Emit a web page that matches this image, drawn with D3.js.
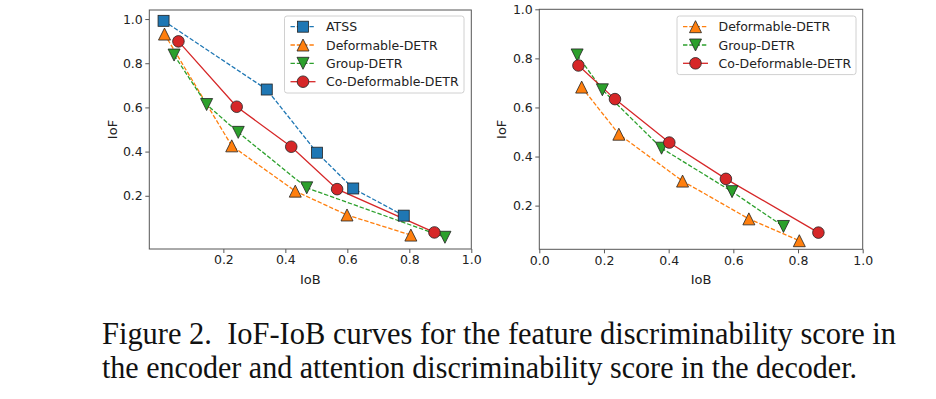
<!DOCTYPE html>
<html>
<head>
<meta charset="utf-8">
<script src="https://cdn.jsdelivr.net/npm/d3@7"></script>
<style>
    body { margin: 0; background: #fff; }
    svg text { fill: #222; }
    .tick-label, .legend-label, .axis-label { font-family: "DejaVu Sans", sans-serif; }
    .caption { font-family: "Liberation Serif", "Times New Roman", serif; fill: #111; white-space: pre; }
</style>
</head>
<body>
<svg id="chart" width="936" height="399"></svg>
<script>
/**
 * Data.
 * Left panel: encoder (feature discriminability), right panel: decoder (attention).
 */
const encAtssIoB = [0.007, 0.340, 0.502, 0.619, 0.782],
    encAtssIoF = [0.992, 0.681, 0.395, 0.233, 0.110];
const encDefIoB = [0.010, 0.227, 0.432, 0.599, 0.805],
    encDefIoF = [0.932, 0.426, 0.221, 0.113, 0.022];
const encGroupIoB = [0.041, 0.146, 0.248, 0.469, 0.915],
    encGroupIoF = [0.837, 0.613, 0.487, 0.236, 0.012];
const encCoIoB = [0.055, 0.243, 0.419, 0.567, 0.881],
    encCoIoF = [0.899, 0.603, 0.422, 0.230, 0.034];

const decDefIoB = [0.131, 0.246, 0.443, 0.648, 0.804],
    decDefIoF = [0.683, 0.491, 0.300, 0.146, 0.057];
const decGroupIoB = [0.117, 0.195, 0.378, 0.596, 0.755],
    decGroupIoF = [0.814, 0.672, 0.434, 0.257, 0.115];
const decCoIoB = [0.121, 0.234, 0.402, 0.577, 0.863],
    decCoIoF = [0.771, 0.634, 0.457, 0.309, 0.090];

const leftXTicks = [0.2, 0.4, 0.6, 0.8, 1.0],
    leftYTicks = [0.2, 0.4, 0.6, 0.8, 1.0],
    rightXTicks = [0.0, 0.2, 0.4, 0.6, 0.8, 1.0],
    rightYTicks = [0.2, 0.4, 0.6, 0.8, 1.0];

const captionLines = [
    'Figure 2.  IoF-IoB curves for the feature discriminability score in',
    'the encoder and attention discriminability score in the decoder.'
];

/**
 * Series styles.
 */
const styles = {
    'ATSS': { color: '#1f77b4', dash: '4.4,1.9', marker: 'square' },
    'Deformable-DETR': { color: '#ff7f0e', dash: '4.4,1.9', marker: 'up' },
    'Group-DETR': { color: '#2ca02c', dash: '4.4,1.9', marker: 'down' },
    'Co-Deformable-DETR': { color: '#d62728', dash: null, marker: 'circle' }
};

function zip(xs, ys) {
    return xs.map((x, i) => ({ x: x, y: ys[i] }));
}

const panels = [
    {
        box: { left: 149.3, right: 471.3, top: 10, bottom: 249 },
        xDomain: [-0.039, 1.0], yDomain: [-0.041, 1.041],
        xTicks: leftXTicks, yTicks: leftYTicks,
        yLabelX: 113,
        legend: { left: 284.5, top: 16, width: 179.5, rowY: [26.7, 45, 63.3, 81.7] },
        series: [
            { name: 'ATSS', points: zip(encAtssIoB, encAtssIoF) },
            { name: 'Deformable-DETR', points: zip(encDefIoB, encDefIoF) },
            { name: 'Group-DETR', points: zip(encGroupIoB, encGroupIoF) },
            { name: 'Co-Deformable-DETR', points: zip(encCoIoB, encCoIoF) }
        ]
    },
    {
        box: { left: 539.3, right: 862.7, top: 9.3, bottom: 249.3 },
        xDomain: [0, 1], yDomain: [0.022, 1.0],
        xTicks: rightXTicks, yTicks: rightYTicks,
        yLabelX: 502,
        legend: { left: 677, top: 16, width: 179, rowY: [26.7, 45, 63.3] },
        series: [
            { name: 'Deformable-DETR', points: zip(decDefIoB, decDefIoF) },
            { name: 'Group-DETR', points: zip(decGroupIoB, decGroupIoF) },
            { name: 'Co-Deformable-DETR', points: zip(decCoIoB, decCoIoF) }
        ]
    }
];

const svg = d3.select('#chart');

/**
 * Draws one marker glyph centred at (cx, cy).
 */
function drawMarker(g, type, cx, cy, color) {
    let m;
    if (type === 'square') {
        m = g.append('rect').attr('x', cx - 5.5).attr('y', cy - 5.5)
            .attr('width', 11).attr('height', 11);
    } else if (type === 'circle') {
        m = g.append('circle').attr('cx', cx).attr('cy', cy).attr('r', 5.8);
    } else {
        const s = 6, d = type === 'up' ? -1 : 1;
        m = g.append('path').attr('d',
            'M' + cx + ',' + (cy + d * s) +
            'L' + (cx - s) + ',' + (cy - d * s) +
            'L' + (cx + s) + ',' + (cy - d * s) + 'Z');
    }
    m.attr('fill', color).attr('stroke', '#222').attr('stroke-width', 0.8);
}

function drawPanel(p) {
    const b = p.box;
    const x = d3.scaleLinear().domain(p.xDomain).range([b.left, b.right]),
        y = d3.scaleLinear().domain(p.yDomain).range([b.bottom, b.top]);

    const g = svg.append('g');

    // Axes
    const xAxis = g.append('g').attr('transform', 'translate(0,' + b.bottom + ')')
        .call(d3.axisBottom(x).tickValues(p.xTicks).tickFormat(d3.format('.1f')).tickSizeOuter(0).tickSize(4));
    const yAxis = g.append('g').attr('transform', 'translate(' + b.left + ',0)')
        .call(d3.axisLeft(y).tickValues(p.yTicks).tickFormat(d3.format('.1f')).tickSizeOuter(0).tickSize(4));

    [xAxis, yAxis].forEach(a => {
        a.select('.domain').remove();
        a.selectAll('line').attr('stroke', '#444').attr('stroke-width', 0.9);
        a.selectAll('text').attr('class', 'tick-label').attr('font-size', 12.5).attr('fill', '#222');
    });
    xAxis.selectAll('text').attr('dy', '0.71em').attr('y', 6.5);
    yAxis.selectAll('text').attr('x', -6.5);

    // Frame
    g.append('rect')
        .attr('x', b.left).attr('y', b.top)
        .attr('width', b.right - b.left).attr('height', b.bottom - b.top)
        .attr('fill', 'none').attr('stroke', '#555').attr('stroke-width', 1);

    // Series
    const line = d3.line().x(d => x(d.x)).y(d => y(d.y));
    p.series.forEach(s => {
        const st = styles[s.name];
        g.append('path').datum(s.points)
            .attr('d', line)
            .attr('fill', 'none')
            .attr('stroke', st.color)
            .attr('stroke-width', 1.3)
            .attr('stroke-dasharray', st.dash);
    });
    p.series.forEach(s => {
        const st = styles[s.name];
        s.points.forEach(d => drawMarker(g, st.marker, x(d.x), y(d.y), st.color));
    });

    // Axis labels
    g.append('text').attr('class', 'axis-label')
        .attr('x', (b.left + b.right) / 2).attr('y', 284)
        .attr('text-anchor', 'middle').attr('font-size', 13)
        .text('IoB');
    g.append('text').attr('class', 'axis-label')
        .attr('transform', 'translate(' + (p.yLabelX + 4) + ',' + ((b.top + b.bottom) / 2) + ') rotate(-90)')
        .attr('text-anchor', 'middle').attr('font-size', 13)
        .text('IoF');

    // Legend
    const L = p.legend,
        lh = L.rowY[L.rowY.length - 1] - L.rowY[0] + 22;
    const lg = g.append('g');
    lg.append('rect')
        .attr('x', L.left).attr('y', L.top)
        .attr('width', L.width).attr('height', lh)
        .attr('rx', 2.5)
        .attr('fill', '#fff').attr('fill-opacity', 0.85)
        .attr('stroke', '#d0d0d0').attr('stroke-width', 1);
    p.series.forEach((s, i) => {
        const st = styles[s.name], ry = L.rowY[i];
        lg.append('line')
            .attr('x1', L.left + 6).attr('x2', L.left + 31)
            .attr('y1', ry).attr('y2', ry)
            .attr('stroke', st.color).attr('stroke-width', 1.3)
            .attr('stroke-dasharray', st.dash);
        drawMarker(lg, st.marker, L.left + 18.5, ry, st.color);
        lg.append('text').attr('class', 'legend-label')
            .attr('x', L.left + 41.5).attr('y', ry).attr('dy', '0.36em')
            .attr('font-size', 12.5)
            .text(s.name);
    });
}

panels.forEach(drawPanel);

// Caption
const captionBaselines = [344.3, 378.3],
    captionWidths = [794, 755];
captionLines.forEach((t, i) => {
    svg.append('text').attr('class', 'caption')
        .attr('x', 102).attr('y', captionBaselines[i])
        .attr('font-size', 30.5)
        .attr('textLength', captionWidths[i])
        .attr('lengthAdjust', 'spacingAndGlyphs')
        .text(t);
});
</script>
</body>
</html>
